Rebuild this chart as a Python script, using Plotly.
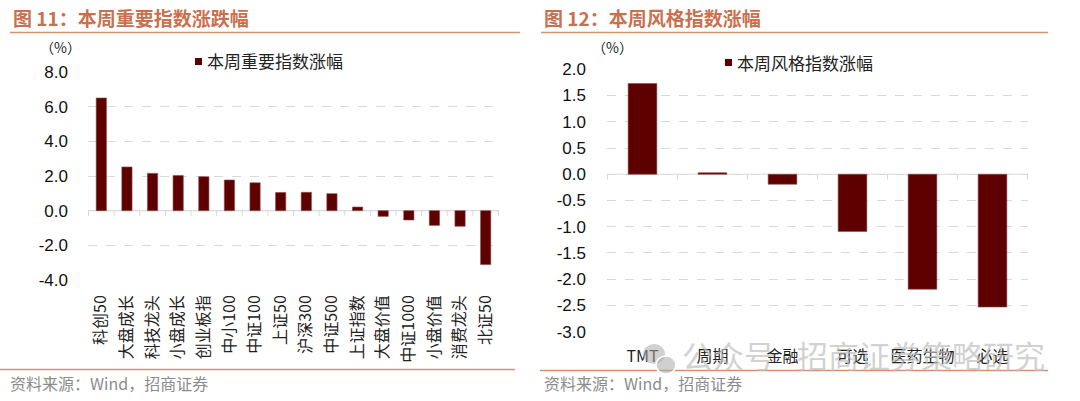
import plotly.graph_objects as go

# ---------------- data ----------------
left_categories = ["科创50", "大盘成长", "科技龙头", "小盘成长", "创业板指", "中小100", "中证100",
                   "上证50", "沪深300", "中证500", "上证指数", "大盘价值", "中证1000", "小盘价值",
                   "消费龙头", "北证50"]
left_values = [6.50, 2.52, 2.15, 2.03, 1.96, 1.77, 1.61, 1.05, 1.06, 0.98, 0.21, -0.33, -0.54,
               -0.85, -0.90, -3.11]
left_ticks = [8, 6, 4, 2, 0, -2, -4]
left_ticktext = ["8.0", "6.0", "4.0", "2.0", "0.0", "-2.0", "-4.0"]

right_categories = ["TMT", "周期", "金融", "可选", "医药生物", "必选"]
right_values = [1.73, 0.03, -0.19, -1.09, -2.19, -2.53]
right_ticks = [2, 1.5, 1, 0.5, 0, -0.5, -1, -1.5, -2, -2.5, -3]
right_ticktext = ["2.0", "1.5", "1.0", "0.5", "0.0", "-0.5", "-1.0", "-1.5", "-2.0", "-2.5", "-3.0"]

left_title = "图 11：本周重要指数涨跌幅"
right_title = "图 12：本周风格指数涨幅"
left_legend = "本周重要指数涨幅"
right_legend = "本周风格指数涨幅"
source_text = "资料来源：Wind，招商证券"
watermark_a = "公众号"
watermark_b = "招商证券策略研究"

# ---------------- style ----------------
W, H = 1080, 401
BAR = "#5E0000"
TITLE_C = "#C8704F"
LINE_C = "#D9906F"
GRID_C = "#D9D9D9"
CJK = "Noto Sans CJK SC"
LAT = "Liberation Sans, Arial"

def px_x(p):
    return p / W

def px_y(p):
    return 1 - p / H

fig = go.Figure()

fig.add_trace(go.Bar(x=left_categories, y=left_values, marker=dict(color=BAR, line=dict(color="#8C4A4A", width=0.6)),
                     xaxis="x", yaxis="y", showlegend=False, width=0.4))
fig.add_trace(go.Bar(x=right_categories, y=right_values, marker=dict(color=BAR, line=dict(color="#8C4A4A", width=0.6)),
                     xaxis="x2", yaxis="y2", showlegend=False, width=0.41))

axis_common = dict(showline=False, zeroline=False, fixedrange=True, automargin=False)

fig.update_layout(
    width=W, height=H,
    margin=dict(l=0, r=0, t=0, b=0, pad=0),
    paper_bgcolor="white", plot_bgcolor="white",
    bargap=0.6,
    xaxis=dict(domain=[px_x(88), px_x(499)], anchor="y", showgrid=False, tickangle=-90,
               ticks="", ticklabelstandoff=11,
               tickfont=dict(family=CJK, size=16, color="#222222"), **axis_common),
    yaxis=dict(domain=[px_y(280), px_y(72)], range=[-4, 8], anchor="x",
               tickvals=left_ticks, ticktext=left_ticktext, showgrid=True,
               gridcolor=GRID_C, griddash="dash", gridwidth=1, ticks="", ticklabelstandoff=19,
               tickfont=dict(family=LAT, size=17, color="#111111"), **axis_common),
    xaxis2=dict(domain=[px_x(607), px_x(1028)], anchor="y2", showgrid=False, tickangle=0,
                ticks="", ticklabelstandoff=13,
                tickfont=dict(family=CJK, size=16, color="#222222"), **axis_common),
    yaxis2=dict(domain=[px_y(331.7), px_y(69.3)], range=[-3, 2], anchor="x2",
                tickvals=right_ticks, ticktext=right_ticktext, showgrid=True,
                gridcolor=GRID_C, griddash="dash", gridwidth=1, ticks="", ticklabelstandoff=20,
                tickfont=dict(family=LAT, size=17, color="#111111"), **axis_common),
)

shapes = []
# zero lines
for xr, yr in [("x domain", "y"), ("x2 domain", "y2")]:
    shapes.append(dict(type="line", xref=xr, yref=yr, x0=0, x1=1, y0=0, y1=0,
                       line=dict(color=GRID_C, width=1.2), layer="below"))
# tick marks at zero line (category boundaries)
for axname, yname, n, ylen in [("x", "y", len(left_categories), 0.3), ("x2", "y2", len(right_categories), 0.1)]:
    for i in range(n + 1):
        shapes.append(dict(type="line", xref=axname, yref=yname, x0=i - 0.5, x1=i - 0.5, y0=0, y1=-ylen,
                           line=dict(color=GRID_C, width=1), layer="below"))
# title underline & bottom rules
shapes += [
    dict(type="line", xref="paper", yref="paper", x0=px_x(10), x1=px_x(520), y0=px_y(32.5), y1=px_y(32.5),
         line=dict(color=LINE_C, width=1.5)),
    dict(type="line", xref="paper", yref="paper", x0=px_x(541), x1=px_x(1048), y0=px_y(32.5), y1=px_y(32.5),
         line=dict(color=LINE_C, width=1.5)),
    dict(type="line", xref="paper", yref="paper", x0=px_x(0), x1=px_x(515), y0=px_y(369.5), y1=px_y(369.5),
         line=dict(color=LINE_C, width=1.3)),
    dict(type="line", xref="paper", yref="paper", x0=px_x(540), x1=px_x(1048), y0=px_y(370.5), y1=px_y(370.5),
         line=dict(color=LINE_C, width=1.3)),
    # legend swatches
    dict(type="rect", xref="paper", yref="paper", x0=px_x(195), x1=px_x(202), y0=px_y(65), y1=px_y(58),
         fillcolor=BAR, line=dict(width=0)),
    dict(type="rect", xref="paper", yref="paper", x0=px_x(725), x1=px_x(732), y0=px_y(66), y1=px_y(59),
         fillcolor=BAR, line=dict(width=0)),
    # watermark icon (two bubbles)
    dict(type="circle", xref="paper", yref="paper", x0=px_x(643), x1=px_x(665), y0=px_y(364), y1=px_y(344),
         fillcolor="rgba(170,170,170,0.55)", line=dict(width=0)),
    dict(type="circle", xref="paper", yref="paper", x0=px_x(656), x1=px_x(676), y0=px_y(374), y1=px_y(356),
         fillcolor="rgba(170,170,170,0.55)", line=dict(color="white", width=1.5)),
]
fig.update_layout(shapes=shapes)

ann = []
def txt(x, y, s, size, color, family=CJK, xanchor="left", bold=False, opacity=1.0):
    ann.append(dict(x=px_x(x), y=px_y(y), xref="paper", yref="paper", text=("<b>%s</b>" % s) if bold else s,
                    showarrow=False, xanchor=xanchor, yanchor="middle",
                    font=dict(family=family, size=size, color=color), opacity=opacity))

txt(11, 18, left_title, 19, TITLE_C, bold=True)
txt(542, 18, right_title, 19, TITLE_C, bold=True)
txt(38, 47, "（%）", 14, "#222222")
txt(590, 47, "（%）", 14, "#222222")
txt(205, 61, left_legend, 17, "#222222")
txt(735, 62, right_legend, 17, "#222222")
txt(8, 383, source_text, 16, "#8C8C8C")
txt(542, 383, source_text, 16, "#8C8C8C")
txt(680, 354, watermark_a, 31, "#BFBFBF", opacity=0.7)
txt(795, 354, watermark_b, 31, "#BFBFBF", opacity=0.7)
fig.update_layout(annotations=ann)

fig.write_html("out.html", config={"displayModeBar": False},
               post_script="document.body.style.margin='0';document.body.style.padding='0';"
                           "document.body.style.overflow='hidden';")
